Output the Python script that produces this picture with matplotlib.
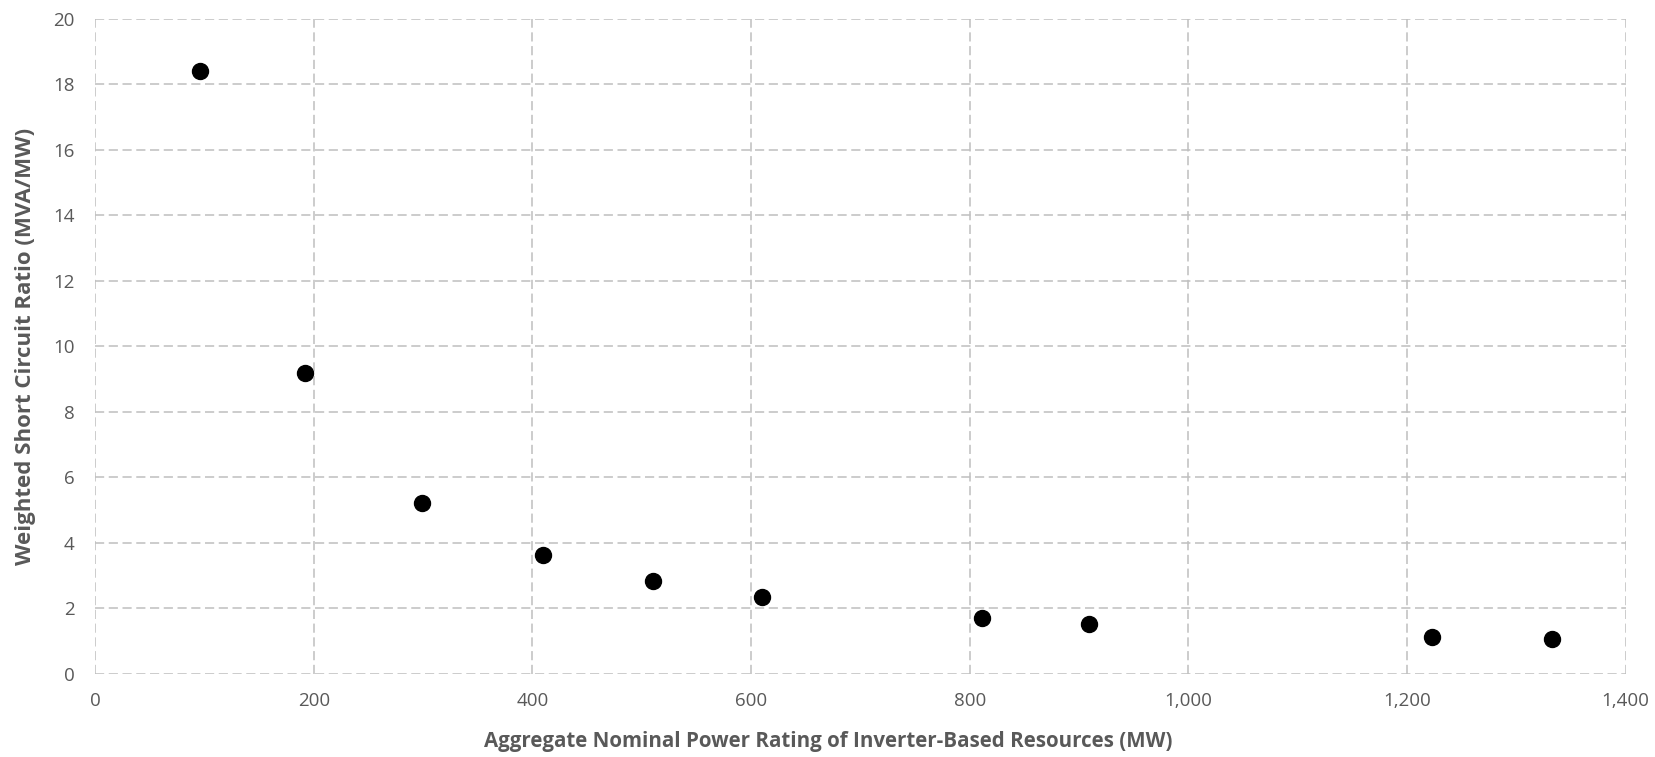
import matplotlib.pyplot as plt
from matplotlib.ticker import FuncFormatter, MultipleLocator

# Aggregate IBR rating (MW) vs weighted short circuit ratio
ibr_mw = [96, 192, 299, 410, 510, 610, 811, 909, 1223, 1333]
wscr = [18.42, 9.19, 5.22, 3.62, 2.84, 2.33, 1.70, 1.51, 1.13, 1.06]

plt.rcParams['font.family'] = ['Open Sans', 'DejaVu Sans']
grey = '#595959'

fig = plt.figure(figsize=(16.56, 7.57), dpi=100)
left, width = 0.0575, 0.9242
ax = fig.add_axes([left, 0.110, width, 0.865])

ax.plot(ibr_mw, wscr, 'o', color='black', markersize=11.5, zorder=3, clip_on=False)

ax.set_xlim(0, 1400)
ax.set_ylim(0, 20)
ax.xaxis.set_major_locator(MultipleLocator(200))
ax.yaxis.set_major_locator(MultipleLocator(2))
ax.xaxis.set_major_formatter(FuncFormatter(lambda v, p: f'{v:,.0f}'))

ax.grid(True, color='#bfbfbf', linestyle=(0, (6, 3)), linewidth=1.1)
ax.set_axisbelow(True)
for s in ax.spines.values():
    s.set_visible(False)

ax.tick_params(length=0, labelsize=13.5, labelcolor=grey)
ax.tick_params(axis='y', pad=15)
ax.tick_params(axis='x', pad=13)

ax.set_xlabel('Aggregate Nominal Power Rating of Inverter-Based Resources (MW)',
              fontsize=14.8, fontweight='bold', color=grey)
# x title sits at the middle of the whole figure, not the plot area
ax.xaxis.set_label_coords((0.5 - left) / width, -0.088)
ax.set_ylabel('Weighted Short Circuit Ratio (MVA/MW)',
              fontsize=16, fontweight='bold', color=grey, labelpad=12)

fig.savefig('out.png', dpi=100)
